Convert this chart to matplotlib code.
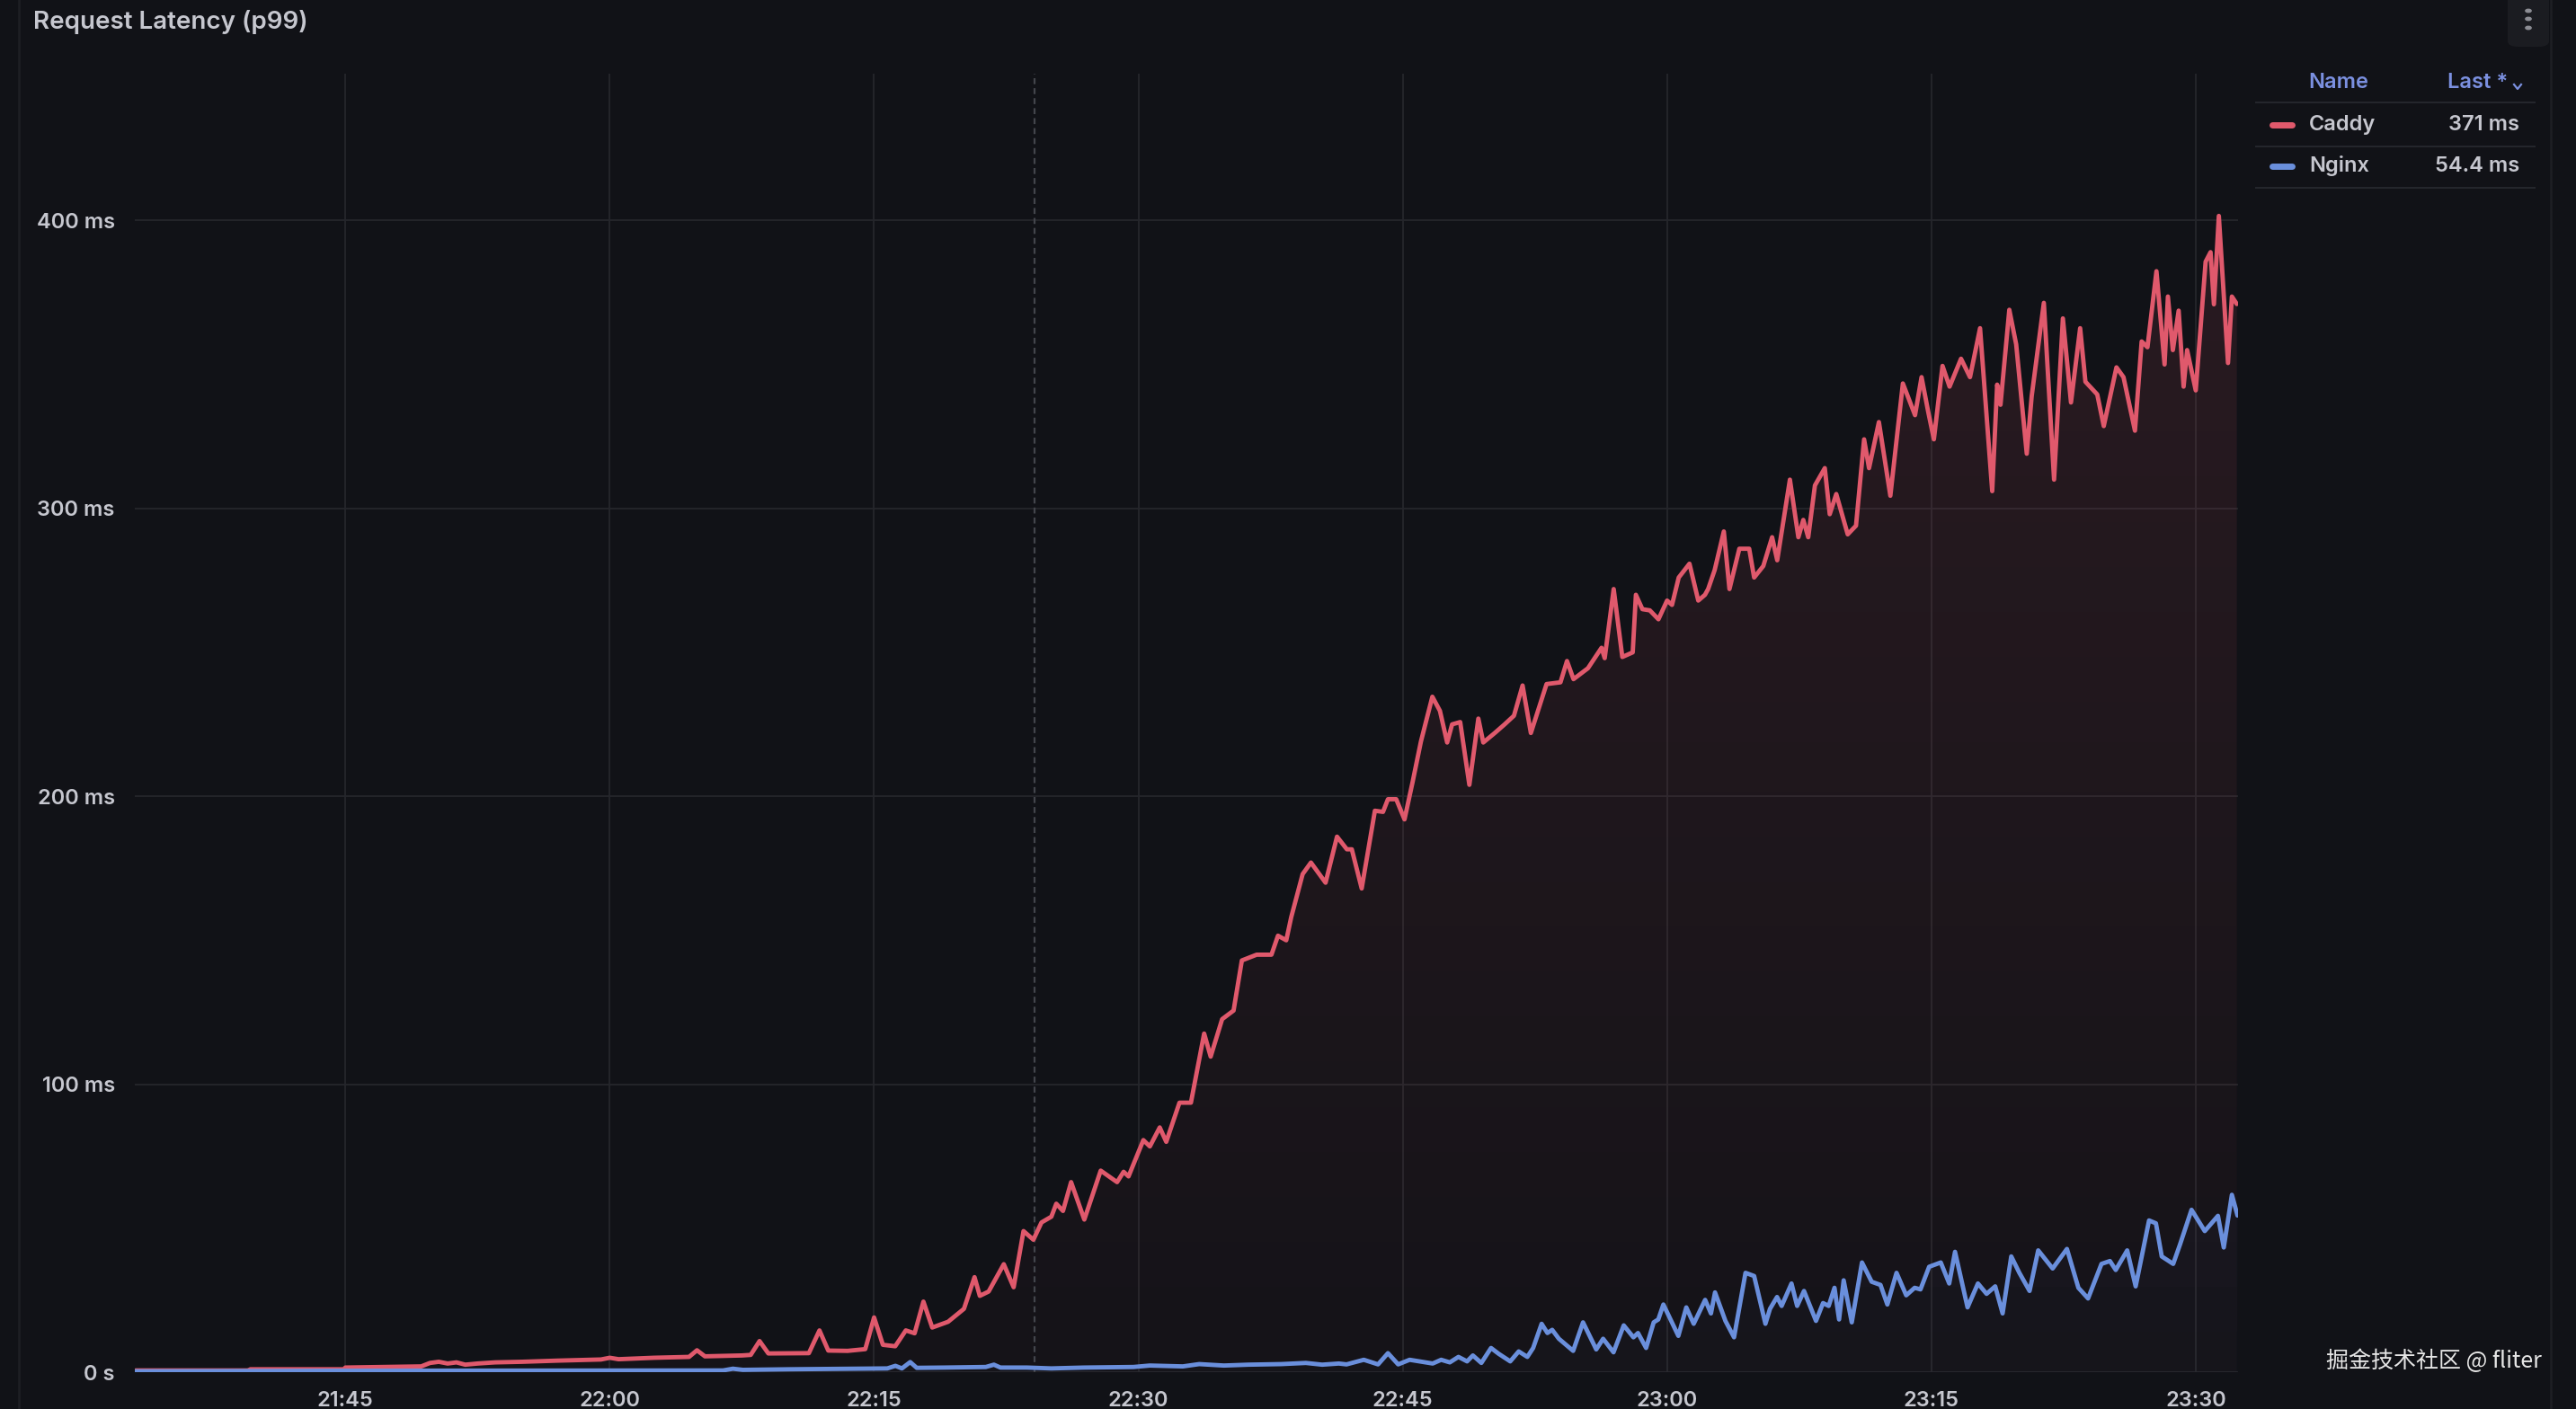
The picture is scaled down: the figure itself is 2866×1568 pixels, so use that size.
import numpy as np
import matplotlib.pyplot as plt
from matplotlib.colors import LinearSegmentedColormap, to_rgb
from matplotlib.lines import Line2D
from matplotlib.patches import FancyBboxPatch, Circle

plt.rcParams['font.family'] = ['Inter', 'DejaVu Sans']

# (minutes after 21:00, p99 latency in ms)
caddy = [
    (33.1, 0.6), (39.5, 0.6), (39.6, 1.0), (44.9, 1.0), (45.0, 1.6), (49.3, 2.0),
    (49.8, 3.2), (50.3, 3.6), (50.8, 3.0), (51.3, 3.4), (51.8, 2.6), (52.5, 3.0),
    (53.5, 3.4), (55.0, 3.6), (57.0, 4.0), (59.5, 4.4), (60.0, 5.0), (60.5, 4.5),
    (62.5, 5.0), (64.5, 5.3), (64.95, 7.6), (65.4, 5.5), (67.5, 5.8), (68.0, 6.0),
    (68.5, 10.8), (69.0, 6.5), (71.3, 6.6), (71.9, 14.5), (72.4, 7.5), (73.5, 7.4),
    (74.5, 8.0), (75.0, 19.0), (75.5, 9.5), (76.2, 9.0), (76.8, 14.5), (77.3, 13.5),
    (77.8, 24.5), (78.3, 15.5), (79.2, 17.5), (80.1, 22.0), (80.7, 33.0), (81.0, 26.5),
    (81.5, 28.0), (82.36, 37.5), (82.92, 29.5), (83.48, 49.0), (84.04, 46.0), (84.5, 52.0),
    (85.06, 54.0), (85.34, 58.5), (85.72, 56.0), (86.18, 66.0), (86.93, 53.0), (87.86, 70.0),
    (88.79, 66.0), (89.16, 69.6), (89.44, 68.0), (90.28, 80.6), (90.65, 78.4), (91.21, 85.0),
    (91.58, 80.0), (92.33, 93.6), (92.98, 93.6), (93.73, 117.6), (94.1, 109.6), (94.75, 122.6),
    (95.4, 125.6), (95.87, 143.0), (96.71, 145.0), (97.55, 145.0), (97.92, 151.6), (98.39, 150.0),
    (98.67, 158.0), (99.32, 173.0), (99.79, 177.0), (100.62, 170.0), (101.27, 186.0), (101.83, 181.6),
    (102.11, 181.6), (102.67, 168.0), (103.42, 195.0), (103.88, 194.6), (104.16, 199.0), (104.63, 199.0),
    (105.1, 192.0), (105.56, 205.0), (106.03, 219.0), (106.68, 234.6), (107.11, 229.7), (107.52, 218.7),
    (107.8, 225.0), (108.26, 225.8), (108.78, 204.0), (109.29, 227.0), (109.57, 218.7), (110.22, 222.0),
    (110.78, 225.0), (111.31, 228.0), (111.8, 238.5), (112.27, 222.0), (113.16, 239.0), (113.95, 239.6),
    (114.32, 247.0), (114.69, 240.7), (115.51, 244.5), (116.28, 251.6), (116.46, 248.0), (116.97, 272.0),
    (117.46, 248.4), (118.05, 250.0), (118.23, 270.0), (118.6, 265.0), (119.02, 264.6), (119.51, 261.5),
    (120.0, 268.0), (120.28, 266.5), (120.66, 276.0), (121.27, 280.8), (121.77, 268.0), (122.15, 270.0),
    (122.33, 272.0), (122.7, 278.6), (123.22, 292.0), (123.54, 272.0), (124.1, 286.0), (124.66, 286.0),
    (124.94, 276.0), (125.46, 280.0), (125.96, 290.0), (126.25, 282.0), (126.97, 310.0), (127.45, 290.0),
    (127.73, 296.0), (128.01, 290.0), (128.39, 308.0), (128.95, 314.0), (129.23, 298.0), (129.6, 305.0),
    (130.25, 291.0), (130.72, 294.0), (131.18, 324.0), (131.46, 314.0), (132.02, 330.0), (132.67, 304.4),
    (133.38, 343.4), (134.07, 332.4), (134.44, 345.6), (134.82, 333.5), (135.14, 324.0), (135.63, 349.5),
    (136.03, 342.3), (136.68, 352.0), (137.19, 345.6), (137.76, 362.6), (138.45, 306.0), (138.73, 343.0),
    (138.92, 336.0), (139.42, 369.0), (139.81, 357.0), (140.41, 319.0), (140.69, 339.0), (141.38, 371.4),
    (141.96, 310.0), (142.46, 366.0), (142.92, 336.8), (143.44, 362.6), (143.74, 344.0), (144.41, 339.6),
    (144.78, 328.6), (145.5, 349.0), (145.9, 345.6), (146.55, 327.0), (146.93, 358.0), (147.26, 356.0),
    (147.77, 382.4), (148.23, 350.0), (148.42, 373.6), (148.7, 355.0), (149.03, 368.7), (149.31, 342.3),
    (149.51, 355.0), (150.0, 341.0), (150.56, 385.7), (150.84, 389.0), (151.03, 370.9), (151.31, 401.6),
    (151.83, 350.5), (152.05, 373.6), (152.33, 371.0),
]

nginx = [
    (33.07, 0.3), (45.0, 0.5), (66.43, 0.6), (66.99, 1.2), (67.55, 0.8), (70.16, 1.0),
    (75.75, 1.3), (76.21, 2.2), (76.58, 1.3), (77.05, 3.5), (77.42, 1.5), (79.01, 1.6),
    (81.34, 1.8), (81.8, 2.6), (82.17, 1.6), (83.67, 1.6), (85.06, 1.3), (86.93, 1.6),
    (89.72, 1.8), (90.65, 2.3), (92.52, 2.0), (93.45, 2.8), (94.85, 2.3), (96.24, 2.6),
    (98.11, 2.8), (99.5, 3.2), (100.43, 2.6), (101.37, 3.0), (101.81, 2.7), (102.79, 4.3),
    (103.6, 2.7), (104.16, 6.6), (104.74, 2.7), (105.39, 4.3), (106.7, 3.0), (107.18, 4.3),
    (107.67, 3.4), (108.16, 5.3), (108.65, 3.75), (108.98, 5.8), (109.46, 3.2), (110.01, 8.4),
    (110.44, 6.4), (111.1, 3.75), (111.58, 7.2), (112.07, 5.3), (112.4, 8.4), (112.88, 16.8),
    (113.21, 13.6), (113.48, 14.7), (113.86, 11.6), (114.67, 7.4), (115.23, 17.3), (115.98, 7.9),
    (116.37, 11.6), (116.96, 6.9), (117.54, 16.25), (118.09, 12.1), (118.35, 13.6), (118.81, 8.4),
    (119.24, 17.3), (119.5, 18.3), (119.79, 23.5), (120.11, 19.4), (120.64, 12.6), (121.09, 22.5),
    (121.51, 16.8), (122.16, 25.1), (122.49, 20.4), (122.72, 27.7), (123.31, 17.8), (123.8, 12.1),
    (124.45, 34.5), (124.94, 33.4), (125.58, 16.8), (125.84, 22.0), (126.24, 26.1), (126.5, 23.0),
    (127.06, 30.8), (127.38, 23.0), (127.77, 28.2), (128.45, 17.8), (128.85, 24.0), (129.17, 23.0),
    (129.5, 29.3), (129.76, 18.3), (130.02, 31.9), (130.48, 17.3), (131.06, 38.1), (131.61, 31.4),
    (132.11, 30.3), (132.5, 23.5), (133.02, 34.5), (133.57, 26.7), (134.05, 29.3), (134.38, 28.75),
    (134.87, 36.6), (135.53, 38.1), (136.01, 30.8), (136.34, 41.8), (137.05, 22.5), (137.64, 30.8),
    (138.13, 27.2), (138.62, 29.8), (139.04, 20.4), (139.53, 40.2), (139.99, 34.5), (140.57, 28.2),
    (141.06, 42.3), (141.88, 36.0), (142.69, 42.8), (143.34, 29.3), (143.89, 25.6), (144.65, 37.6),
    (145.13, 38.6), (145.46, 35.5), (146.11, 42.3), (146.59, 29.8), (147.35, 52.7), (147.74, 51.7),
    (148.07, 40.2), (148.72, 37.6), (149.11, 44.4), (149.76, 56.4), (150.51, 49.0), (151.26, 54.3),
    (151.59, 43.3), (152.05, 61.6), (152.37, 54.4),
]

tick_minutes = [45, 60, 75, 90, 105, 120, 135, 150]
tick_labels = ['21:45', '22:00', '22:15', '22:30', '22:45', '23:00', '23:15', '23:30']
y_ticks = [0, 100, 200, 300, 400]
y_labels = ['0 s', '100 ms', '200 ms', '300 ms', '400 ms']
legend_names = ['Caddy', 'Nginx']
legend_last = ['371 ms', '54.4 ms']
hover_minute = 84.1

BG = '#111217'
GRID = '#25262c'
TEXT = '#c6c7cf'
RED = '#e0596c'
BLUE = '#6a8fdc'
W, H = 2866, 1568


def fx(px):
    return px / W


def fy(py):
    return 1 - py / H


def gradient_fill(ax, t, v, color, a_bottom, a_top, ymax):
    coll = ax.fill_between(t, v, 0, color='none', lw=0)
    rgb = to_rgb(color)
    cmap = LinearSegmentedColormap.from_list('g', [(*rgb, a_bottom), (*rgb, a_top)])
    img = ax.imshow(np.linspace(0, 1, 256).reshape(-1, 1), cmap=cmap, aspect='auto',
                    origin='lower', extent=[t[0], t[-1], 0, ymax], zorder=1)
    img.set_clip_path(coll.get_paths()[0], transform=ax.transData)


caddy_t, caddy_ms = map(np.array, zip(*caddy))
nginx_t, nginx_ms = map(np.array, zip(*nginx))

fig = plt.figure(figsize=(W / 100, H / 100), dpi=100, facecolor=BG)
ax = fig.add_axes([fx(150), fy(1527), fx(2490) - fx(150), fy(82) - fy(1527)])
ax.set_facecolor(BG)

gradient_fill(ax, caddy_t, caddy_ms, RED, 0.02, 0.12, 400)
gradient_fill(ax, nginx_t, nginx_ms, BLUE, 0.02, 0.12, 400)
ax.plot(caddy_t, caddy_ms, color=RED, lw=3.5, zorder=3,
        solid_joinstyle='round', solid_capstyle='round')
ax.plot(nginx_t, nginx_ms, color=BLUE, lw=3.5, zorder=3,
        solid_joinstyle='round', solid_capstyle='round')
ax.axvline(hover_minute, color='#43454c', lw=1.6, ls=(0, (3, 2)), zorder=2)

ax.set_xlim(33.05, 152.4)
ax.set_ylim(0, 451)
ax.set_xticks(tick_minutes)
ax.set_xticklabels(tick_labels)
ax.set_yticks(y_ticks)
ax.set_yticklabels(y_labels)
ax.tick_params(axis='both', length=0, colors=TEXT, labelsize=17)
ax.tick_params(axis='x', pad=15)
ax.tick_params(axis='y', pad=16)
for lab in ax.get_xticklabels() + ax.get_yticklabels():
    lab.set_fontweight('semibold')
ax.grid(True, color=GRID, lw=1.3)
ax.set_axisbelow(True)
for s in ax.spines.values():
    s.set_visible(False)

# panel chrome
fig.add_artist(Line2D([fx(21), fx(21)], [0, 1], color='#1d1e23', lw=2))
fig.add_artist(Line2D([fx(2838), fx(2838)], [0, 1], color='#1d1e23', lw=2))
fig.text(fx(37), fy(32), 'Request Latency (p99)', color=TEXT, fontsize=20,
         fontweight='semibold', va='baseline', ha='left')
fig.add_artist(FancyBboxPatch((fx(2790), fy(52)), fx(46), fy(0) - fy(52) + 0.01,
                              boxstyle='round,pad=0,rounding_size=0.004',
                              fc='#1b1c21', ec='none'))
for dy in (12, 21, 31):
    fig.add_artist(Circle((fx(2813), fy(dy)), 0.0011, color='#8c8d94'))

# legend table
fig.text(fx(2602), fy(92), 'Name', color='#7b90e0', fontsize=17, fontweight='semibold',
         ha='center', va='center')
fig.text(fx(2790), fy(92), 'Last *', color='#7b90e0', fontsize=17, fontweight='semibold',
         ha='right', va='center')
fig.add_artist(Line2D([fx(2797), fx(2801), fx(2805)], [fy(94), fy(99), fy(94)],
                      color='#7b90e0', lw=1.6))
for sy in (114, 163, 209):
    fig.add_artist(Line2D([fx(2510), fx(2820)], [fy(sy), fy(sy)], color='#24262c', lw=1.5))
for name, last, col, ry in zip(legend_names, legend_last, [RED, BLUE], [139, 185]):
    fig.add_artist(Line2D([fx(2528), fx(2550)], [fy(ry), fy(ry)], color=col, lw=5,
                          solid_capstyle='round'))
    fig.text(fx(2569), fy(ry), name, color=TEXT, fontsize=17, fontweight='semibold',
             ha='left', va='center')
    fig.text(fx(2803), fy(ry), last, color=TEXT, fontsize=17, fontweight='semibold',
             ha='right', va='center')

fig.text(fx(2828), fy(1515), '掘金技术社区 @ fliter', color='#e6e6e6', fontsize=18,
         family=['Noto Sans CJK SC', 'DejaVu Sans'], ha='right', va='center')

fig.savefig('out.png', dpi=100, facecolor=BG)
